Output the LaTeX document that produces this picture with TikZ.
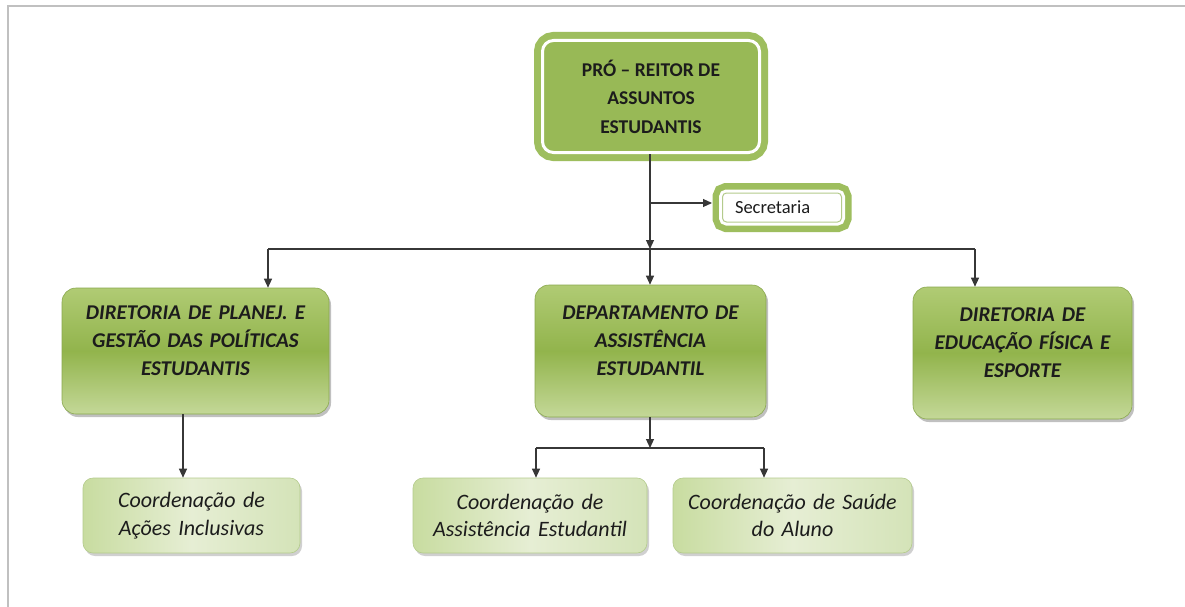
\documentclass[tikz,border=0pt]{standalone}
\usepackage{fontspec}
\setmainfont{Carlito}
\usetikzlibrary{arrows.meta,shadows}
\definecolor{og}{RGB}{152,185,86}
\definecolor{ogband}{RGB}{158,190,94}
\definecolor{lineg}{RGB}{55,55,55}
\definecolor{txt}{RGB}{28,28,28}
\definecolor{ltop}{RGB}{176,203,116}
\definecolor{lmid}{RGB}{146,180,76}
\definecolor{lbot}{RGB}{196,216,152}
\definecolor{ledge}{RGB}{138,168,78}
\definecolor{cl}{RGB}{200,220,160}
\definecolor{cm}{RGB}{230,238,212}
\definecolor{cr}{RGB}{212,227,184}
\definecolor{cedge}{RGB}{180,203,140}
\definecolor{frame}{RGB}{192,192,192}
\begin{document}
\begin{tikzpicture}[x=1pt,y=-1pt,
  arr/.style={draw=lineg, line width=1.1pt, -{Triangle[width=8pt,length=9pt]}},
  ln/.style={draw=lineg, line width=1.1pt},
  topbox/.style={rectangle, rounded corners=11pt, fill=og, draw=white, line width=3pt,
    preaction={draw=ogband, line width=17pt},
    minimum width=217pt, minimum height=112pt, inner sep=0pt, align=center, text=txt,
    font=\fontsize{19.5}{28.5}\selectfont\bfseries},
  secbox/.style={rectangle, rounded corners=4pt, fill=white, draw=cedge, line width=1pt,
    preaction={draw=ogband, line width=20pt},
    preaction={draw=white, line width=7pt},
    minimum width=119pt, minimum height=29pt, inner sep=0pt, text=txt,
    font=\fontsize{18.5}{22}\selectfont},
  lvtwo/.style={rectangle, rounded corners=14pt, top color=ltop, bottom color=lbot, middle color=lmid,
    draw=ledge, line width=0.6pt,
    drop shadow={opacity=0.35, shadow xshift=2pt, shadow yshift=-3pt, fill=black!70},
    inner sep=0pt, text width=250pt, align=center, text=txt, text depth=76pt,
    font=\fontsize{21}{28}\selectfont\bfseries\itshape},
  lvthree/.style={rectangle, rounded corners=10pt, left color=cl, right color=cr, middle color=cm,
    draw=cedge, line width=0.6pt,
    drop shadow={opacity=0.3, shadow xshift=2pt, shadow yshift=-3pt, fill=black!60},
    minimum height=75pt, inner sep=0pt, text width=210pt, align=center, text=txt,
    font=\fontsize{22}{27.5}\selectfont\itshape}
]
\useasboundingbox (0,0) rectangle (1185,607);
\fill[white] (0,0) rectangle (1185,607);
\draw[frame, line width=2pt] (8,607) -- (8,6) -- (1185,6);

% nodes
\node[topbox] (top) at (651,96.5) {PRÓ -- REITOR DE\\ASSUNTOS\\ESTUDANTIS};
\node[secbox, anchor=west, text width=110pt, align=left] (sec) at (722,207.5) {\hspace{8pt}Secretaria};

\node[lvtwo, minimum width=267pt, minimum height=126pt] (dirA) at (195.5,351)
  {DIRETORIA DE PLANEJ. E\\GESTÃO DAS POLÍTICAS\\ESTUDANTIS};
\node[lvtwo, text width=215pt, minimum width=231pt, minimum height=132pt] (dep) at (650.5,351)
  {DEPARTAMENTO DE\\ASSISTÊNCIA\\ESTUDANTIL};
\node[lvtwo, text width=205pt, minimum width=219pt, minimum height=132pt] (dirC) at (1022.5,353)
  {DIRETORIA DE\\EDUCAÇÃO FÍSICA E\\ESPORTE};

\node[lvthree, minimum width=217pt] (coA) at (191.5,515.5) {Coordenação de\\Ações Inclusivas};
\node[lvthree, minimum width=234pt] (coB) at (530,515.5) {Coordenação de\\Assistência Estudantil};
\node[lvthree, minimum width=239pt] (coC) at (792.5,515.5) {Coordenação de Saúde\\do Aluno};

% junction coordinates
\coordinate (js) at (650,203);
\coordinate (jm) at (650,249);
\coordinate (jl) at (268,249);
\coordinate (jr) at (975,249);
\coordinate (ja) at (183,414);
\coordinate (jb) at (650,448);
\coordinate (jbl) at (536,448);
\coordinate (jbr) at (764,448);

% connectors
\draw[arr] (jm |- top.south) -- (jm);
\draw[arr, shorten >=10pt] (js) -- (js -| sec.west);
\draw[ln] (jl) -- (jr);
\draw[arr] (jm) -- (jm |- dep.north);
\draw[arr] (jl) -- (jl |- dirA.north);
\draw[arr] (jr) -- (jr |- dirC.north);
\draw[arr] (ja |- dirA.south) -- (ja |- coA.north);
\draw[arr] (jb |- dep.south) -- (jb);
\draw[ln] (jbl) -- (jbr);
\draw[arr] (jbl) -- (jbl |- coB.north);
\draw[arr] (jbr) -- (jbr |- coC.north);
\end{tikzpicture}
\end{document}
